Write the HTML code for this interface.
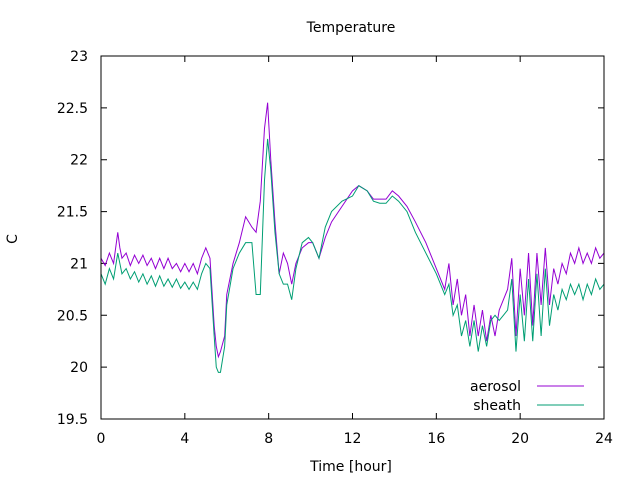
<!DOCTYPE html>
<html><head><meta charset="utf-8"><style>
body{margin:0;background:#fff}
svg{display:block;font-family:"DejaVu Sans","Liberation Sans",sans-serif;font-size:14px}
</style></head><body>
<svg id="chart" width="640" height="480" viewBox="0 0 640 480" xmlns="http://www.w3.org/2000/svg">
<rect width="640" height="480" fill="#fff"/>
<text x="351" y="32" text-anchor="middle">Temperature</text>
<text x="351" y="471" text-anchor="middle">Time [hour]</text>
<text x="17" y="239" text-anchor="middle" transform="rotate(-90 17 239)">C</text>
<g id="ticks"></g>
<g id="series"></g>
<rect x="101" y="56" width="503" height="363" fill="none" stroke="#000" stroke-width="1"/>
<g>
<text x="521" y="391" text-anchor="end">aerosol</text>
<line x1="537" y1="386" x2="584" y2="386" stroke="#9400d3"/>
<text x="521" y="410" text-anchor="end">sheath</text>
<line x1="537" y1="405" x2="584" y2="405" stroke="#009e73"/>
</g>
</svg>
<script>
const xTicks=[0,4,8,12,16,20,24];
const yTicks=[19.5,20,20.5,21,21.5,22,22.5,23];
const times=[0,0.2,0.4,0.6,0.8,0.9,1.0,1.2,1.4,1.6,1.8,2.0,2.2,2.4,2.6,2.8,3.0,3.2,3.4,3.6,3.8,4.0,4.2,4.4,4.6,4.8,5.0,
5.2,5.4,5.5,5.6,5.7,5.9,6.0,6.3,6.6,6.9,7.2,7.4,7.6,7.8,7.95,8.1,8.3,8.5,8.7,8.9,9.1,9.3,9.6,9.9,10.1,10.4,10.7,11.0,11.5,12.0,12.3,12.7,13.0,13.3,13.6,13.9,14.2,14.6,15.0,15.5,16.0,
16.4,16.6,16.8,17.0,17.2,17.4,17.6,17.8,18.0,18.2,18.4,18.6,18.8,19.0,19.2,19.4,19.6,19.8,20.0,20.2,20.4,20.6,20.8,21.0,21.2,21.4,21.6,21.8,22.0,22.2,22.4,22.6,22.8,23.0,23.2,23.4,23.6,23.8,24.0];
const aerosol=[21.05,20.98,21.1,21.0,21.3,21.15,21.05,21.1,20.98,21.08,21.0,21.08,20.98,21.05,20.95,21.05,20.95,21.05,20.95,21.0,20.92,21.0,20.92,21.0,20.9,21.05,21.15,
21.05,20.4,20.2,20.1,20.15,20.3,20.7,21.0,21.2,21.45,21.35,21.3,21.6,22.3,22.55,22.0,21.4,20.9,21.1,21.0,20.8,21.0,21.15,21.2,21.2,21.05,21.25,21.4,21.55,21.7,21.75,21.7,21.62,21.62,21.62,21.7,21.65,21.55,21.4,21.2,20.95,
20.75,21.0,20.6,20.85,20.5,20.7,20.3,20.6,20.3,20.55,20.25,20.5,20.3,20.55,20.65,20.75,21.05,20.3,20.95,20.5,21.1,20.4,21.1,20.6,21.15,20.6,20.95,20.8,21.0,20.9,21.1,21.0,21.15,21.0,21.1,21.0,21.15,21.05,21.1];
const sheath=[20.9,20.8,20.95,20.85,21.1,21.0,20.9,20.95,20.85,20.92,20.82,20.9,20.8,20.88,20.78,20.88,20.78,20.85,20.77,20.85,20.76,20.82,20.75,20.82,20.75,20.9,21.0,
20.95,20.3,20.0,19.95,19.95,20.2,20.6,20.95,21.1,21.2,21.2,20.7,20.7,21.8,22.2,21.9,21.3,20.9,20.8,20.8,20.65,20.95,21.2,21.25,21.2,21.05,21.35,21.5,21.6,21.65,21.75,21.7,21.6,21.58,21.58,21.65,21.6,21.5,21.3,21.1,20.9,
20.7,20.8,20.5,20.6,20.3,20.45,20.2,20.45,20.15,20.4,20.2,20.45,20.5,20.45,20.5,20.55,20.85,20.15,20.7,20.25,20.85,20.25,20.9,20.3,20.95,20.4,20.7,20.55,20.75,20.65,20.8,20.7,20.8,20.65,20.8,20.7,20.85,20.75,20.8];
const X0=101,X1=604,Y0=419,Y1=56;
const xs=t=>X0+(t-0)/(24-0)*(X1-X0);
const ys=v=>Y0-(v-19.5)/(23-19.5)*(Y0-Y1);
const NS="http://www.w3.org/2000/svg";
const tg=document.getElementById('ticks');
function mk(tag,attrs,parent){const e=document.createElementNS(NS,tag);for(const k in attrs)e.setAttribute(k,attrs[k]);parent.appendChild(e);return e;}
xTicks.forEach(t=>{const x=xs(t);
const l=mk('path',{d:`M${x},${Y0}v-6M${x},${Y1}v6`,stroke:'#000'},tg);


const tx=mk('text',{x:x,y:Y0+24,'text-anchor':'middle'},tg);tx.textContent=t;

});
yTicks.forEach(v=>{const y=ys(v);
const l=mk('path',{d:`M${X0},${y}h6M${X1},${y}h-6`,stroke:'#000'},tg);


const tx=mk('text',{x:X0-13,y:y+5,'text-anchor':'end'},tg);tx.textContent=v;

});
const sg=document.getElementById('series');
function line(vals,color,name){const p=mk('polyline',{points:times.map((t,i)=>xs(t)+','+ys(vals[i])).join(' '),fill:'none',stroke:color,'stroke-width':1},sg);

}
line(aerosol,'#9400d3','aerosol-line');
line(sheath,'#009e73','sheath-line');
</script>
</body></html>
